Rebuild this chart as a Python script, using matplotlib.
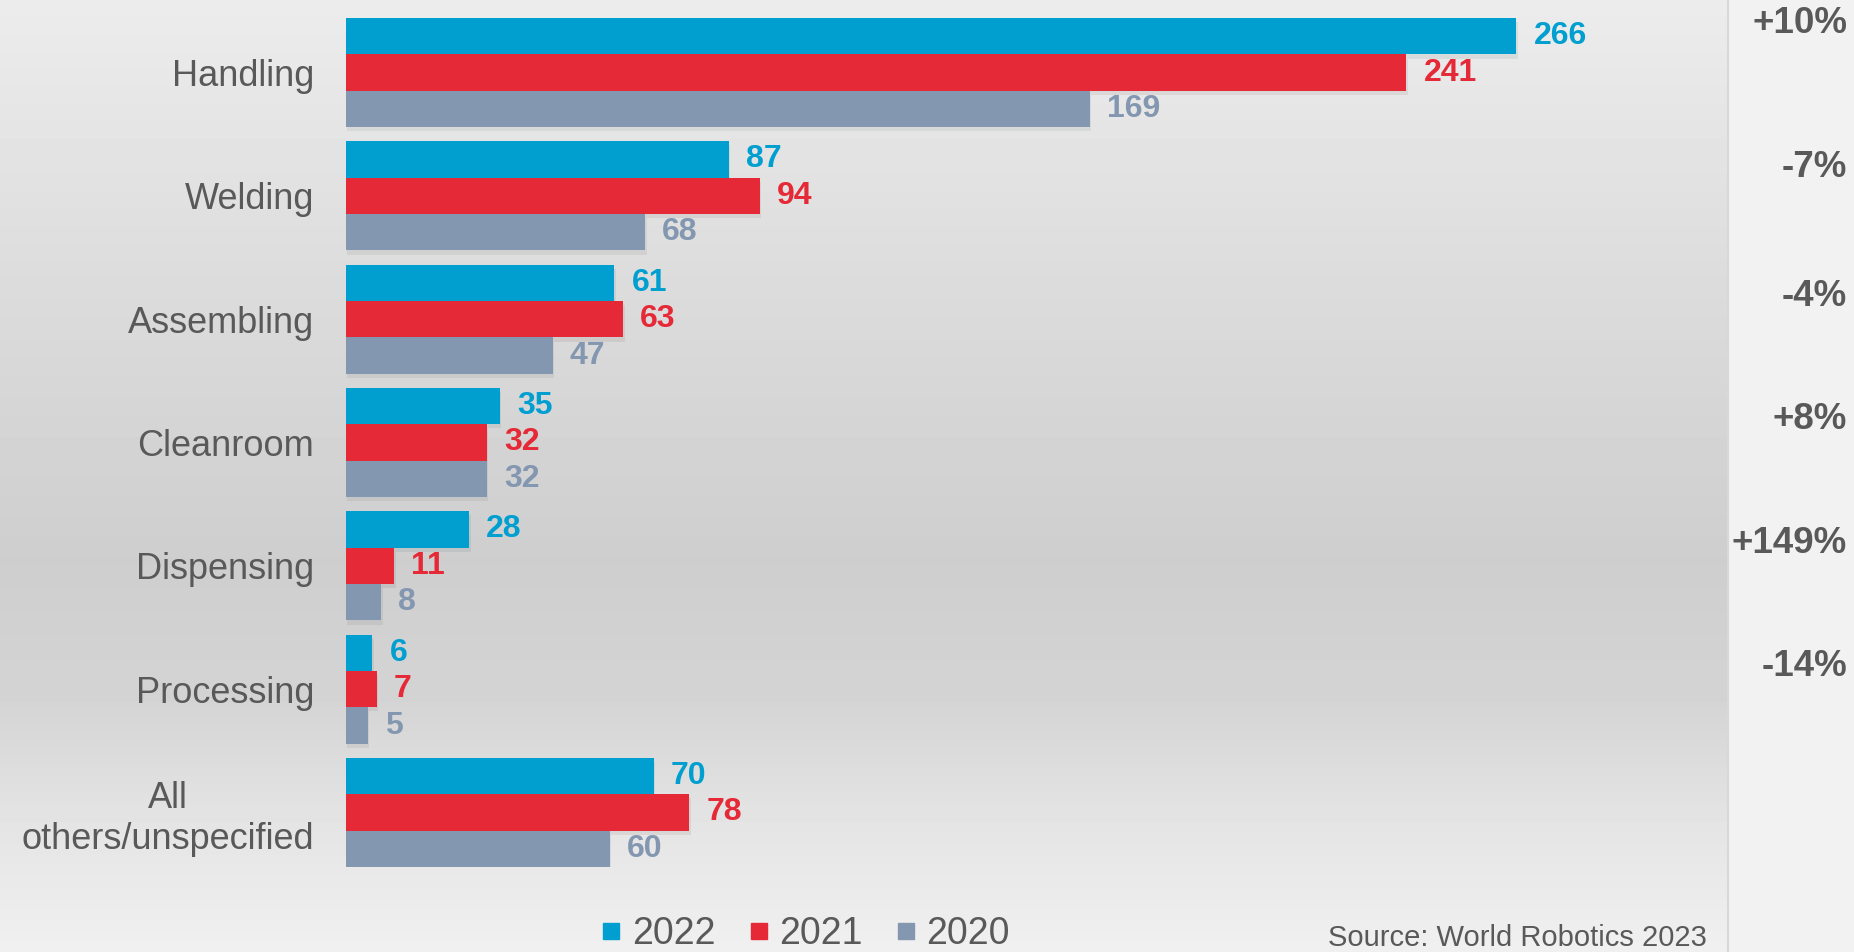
import numpy as np
import matplotlib
matplotlib.use("Agg")
import matplotlib.pyplot as plt
from matplotlib.lines import Line2D
from matplotlib import transforms
from matplotlib import patheffects as pe

plt.rcParams['font.family'] = ['Liberation Sans', 'DejaVu Sans']

# ---- data ----
categories = ["Handling", "Welding", "Assembling", "Cleanroom", "Dispensing",
              "Processing", "All\nothers/unspecified"]
years = ["2022", "2021", "2020"]
v2022 = [266, 87, 61, 35, 28, 6, 70]
v2021 = [241, 94, 63, 32, 11, 7, 78]
v2020 = [169, 68, 47, 32, 8, 5, 60]
growth = ["+10%", "-7%", "-4%", "+8%", "+149%", "-14%"]

# ---- style ----
colors = ["#009FD0", "#E52936", "#8497B0"]
text_gray = "#595959"
W, H = 1854, 952
fig = plt.figure(figsize=(W / 100, H / 100), dpi=100)
fig.patch.set_facecolor("#f2f2f2")

# background gradient for the chart panel
split = 1728
bg = fig.add_axes([0, 0, split / W, 1])
bg.set_axis_off()
ys = np.arange(H)
gray = np.interp(ys, [0, 280, 560, 700, 820, 952], [236, 220, 206, 212, 228, 240]) / 255
img = np.repeat(gray[:, None], 2, axis=1)
bg.imshow(img, cmap="gray", vmin=0, vmax=1, aspect="auto", extent=[0, 1, 0, 1], origin="upper")
bg.set_xlim(0, 1); bg.set_ylim(0, 1)
fig.add_artist(Line2D([split / W, split / W], [0, 1], color="#d8d8d8", lw=1.5,
                      transform=fig.transFigure))

# main axes
px_per_unit = 4.40
left_px, top_px, bot_px = 346, 18, 867
xmax = 300
ax = fig.add_axes([left_px / W, 1 - bot_px / H, xmax * px_per_unit / W, (bot_px - top_px) / H])
ax.set_facecolor("none")
ax.patch.set_alpha(0)

bh = 0.295
y = np.arange(len(categories))
series = [v2022, v2021, v2020]
offsets = [-bh, 0, bh]
shadow = [pe.SimplePatchShadow(offset=(1, -3), alpha=0.07), pe.Normal()]
for vals, off, c, lab in zip(series, offsets, colors, years):
    bars = ax.barh(y + off, vals, height=bh, color=c, label=lab, zorder=3)
    for b in bars:
        b.set_path_effects(shadow)
    for yi, v in zip(y + off, vals):
        ax.annotate(str(v), (v, yi), xytext=(17, 0), textcoords="offset pixels",
                    ha="left", va="center", fontsize=23, fontweight="bold", color=c)

ax.set_xlim(0, xmax)
ax.set_ylim(len(categories) - 1 + 1.5 * bh, -1.5 * bh)
ax.set_yticks(y)
ax.set_yticklabels(categories, fontsize=26, color=text_gray, multialignment="center")
ax.tick_params(axis="y", length=0, pad=23)
ax.set_xticks([])
for s in ax.spines.values():
    s.set_visible(False)

# growth labels on the right
pct_offsets = [-0.40, -0.23, -0.18, -0.19, -0.18, -0.18]
trans = transforms.blended_transform_factory(fig.transFigure, ax.transData)
for i, (g, o) in enumerate(zip(growth, pct_offsets)):
    fig.text(1847 / W, i + o, g, transform=trans, ha="right", va="center",
             fontsize=26.5, fontweight="bold", color=text_gray)

# legend
handles = [Line2D([], [], marker="s", linestyle="none", markersize=12,
                  markerfacecolor=c, markeredgecolor=c) for c in colors]
leg = fig.legend(handles, years, loc="center", bbox_to_anchor=(806 / W, 1 - 934 / H),
                 ncol=3, frameon=False, fontsize=27, handlelength=0.5,
                 handletextpad=0.3, columnspacing=0.9, borderpad=0, borderaxespad=0)
for t in leg.get_texts():
    t.set_color(text_gray)

fig.text(1328 / W, 1 - 924 / H, "Source: World Robotics 2023", ha="left", va="top",
         fontsize=21, color=text_gray)

fig.savefig("out.png", dpi=100)
